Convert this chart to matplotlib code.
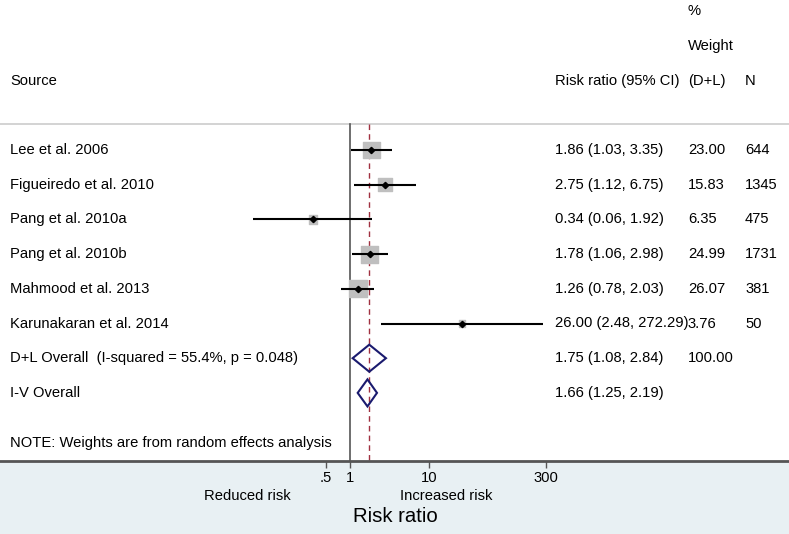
import numpy as np
import matplotlib.pyplot as plt
from matplotlib.transforms import blended_transform_factory

plt.rcParams['font.family'] = ['Liberation Sans', 'DejaVu Sans']

# --- data ---
studies = ["Lee et al. 2006", "Figueiredo et al. 2010", "Pang et al. 2010a",
           "Pang et al. 2010b", "Mahmood et al. 2013", "Karunakaran et al. 2014"]
rr = [1.86, 2.75, 0.34, 1.78, 1.26, 26.00]
lo = [1.03, 1.12, 0.06, 1.06, 0.78, 2.48]
hi = [3.35, 6.75, 1.92, 2.98, 2.03, 272.29]
weight = [23.00, 15.83, 6.35, 24.99, 26.07, 3.76]
n = [644, 1345, 475, 1731, 381, 50]

pooled_labels = ["D+L Overall  (I-squared = 55.4%, p = 0.048)", "I-V Overall"]
pooled_rr = [1.75, 1.66]
pooled_lo = [1.08, 1.25]
pooled_hi = [2.84, 2.19]
pooled_w = ["100.00", ""]

xticks = [0.5, 1, 10, 300]
xticklabels = [".5", "1", "10", "300"]

W, H = 789, 534
fig = plt.figure(figsize=(W / 100, H / 100), dpi=100)
fig.patch.set_facecolor("#e8f0f3")

ax_bottom = 461
ax = fig.add_axes([0, 1 - ax_bottom / H, 1, ax_bottom / H])
ax.set_facecolor("white")
ax.set_xscale("log")

# pixel -> value mapping of the original (1 at x=350, 79.3 px per decade)
x0, dec = 350, 79.3
ax.set_xlim(10 ** ((0 - x0) / dec), 10 ** ((W - x0) / dec))
row0, step = 150, 34.7
ax.set_ylim((ax_bottom - row0) / step, (0 - row0) / step)

for s in ["top", "left", "right"]:
    ax.spines[s].set_visible(False)
ax.spines["bottom"].set_color("#555555")
ax.spines["bottom"].set_linewidth(2)
ax.set_yticks([])
ax.set_xticks(xticks)
ax.set_xticklabels(xticklabels, fontsize=10.6)
ax.minorticks_off()
ax.tick_params(axis="x", length=5, width=1, color="#555555", pad=2)

ytop = -0.75
ybot = (ax_bottom - row0) / step
ax.axhline(ytop, color="#cccccc", lw=1.2)
ax.plot([1, 1], [ytop, ybot], color="#555555", lw=1.2)
ax.plot([pooled_rr[0]] * 2, [ytop, ybot], color="#a03040", lw=1, ls=(0, (4, 3)))

# studies
ys = np.arange(len(studies))
ax.scatter(rr, ys, marker="s", s=[5.96 * w for w in weight], color="#bfbfbf", zorder=2)
ax.hlines(ys, lo, hi, color="black", lw=1.5, zorder=3)
ax.plot(rr, ys, "D", color="black", ms=3.2, zorder=4)

# pooled diamonds
for i, (m, l, h) in enumerate(zip(pooled_rr, pooled_lo, pooled_hi)):
    y = len(studies) + i
    ax.fill([l, m, h, m, l], [y, y - 0.39, y, y + 0.39, y], facecolor="none",
            edgecolor="#1a1a6e", lw=1.5, zorder=3)

# text columns
tr = blended_transform_factory(fig.transFigure, ax.transData)
fs = 10.6
cx_src, cx_est, cx_w, cx_n = 10 / W, 555 / W, 688 / W, 745 / W
ax.text(cx_w, -4.0, "%", transform=tr, fontsize=fs, va="center")
ax.text(cx_w, -3.0, "Weight", transform=tr, fontsize=fs, va="center")
ax.text(cx_src, -2.0, "Source", transform=tr, fontsize=fs, va="center")
ax.text(cx_est, -2.0, "Risk ratio (95% CI)", transform=tr, fontsize=fs, va="center")
ax.text(cx_w, -2.0, "(D+L)", transform=tr, fontsize=fs, va="center")
ax.text(cx_n, -2.0, "N", transform=tr, fontsize=fs, va="center")

for i, name in enumerate(studies):
    ax.text(cx_src, i, name, transform=tr, fontsize=fs, va="center")
    ax.text(cx_est, i, f"{rr[i]:.2f} ({lo[i]:.2f}, {hi[i]:.2f})", transform=tr, fontsize=fs, va="center")
    ax.text(cx_w, i, f"{weight[i]:.2f}", transform=tr, fontsize=fs, va="center")
    ax.text(cx_n, i, str(n[i]), transform=tr, fontsize=fs, va="center")

for i, name in enumerate(pooled_labels):
    y = len(studies) + i
    ax.text(cx_src, y, name, transform=tr, fontsize=fs, va="center")
    ax.text(cx_est, y, f"{pooled_rr[i]:.2f} ({pooled_lo[i]:.2f}, {pooled_hi[i]:.2f})",
            transform=tr, fontsize=fs, va="center")
    ax.text(cx_w, y, pooled_w[i], transform=tr, fontsize=fs, va="center")

ax.text(cx_src, 8.45, "NOTE: Weights are from random effects analysis", transform=tr,
        fontsize=fs, va="center")

# bottom labels
fig.text(247 / W, 1 - 496 / H, "Reduced risk", ha="center", va="center", fontsize=fs)
fig.text(446 / W, 1 - 496 / H, "Increased risk", ha="center", va="center", fontsize=fs)
fig.text(395 / W, 1 - 517 / H, "Risk ratio", ha="center", va="center", fontsize=14.7)

fig.savefig("out.png", dpi=100, facecolor=fig.get_facecolor())
